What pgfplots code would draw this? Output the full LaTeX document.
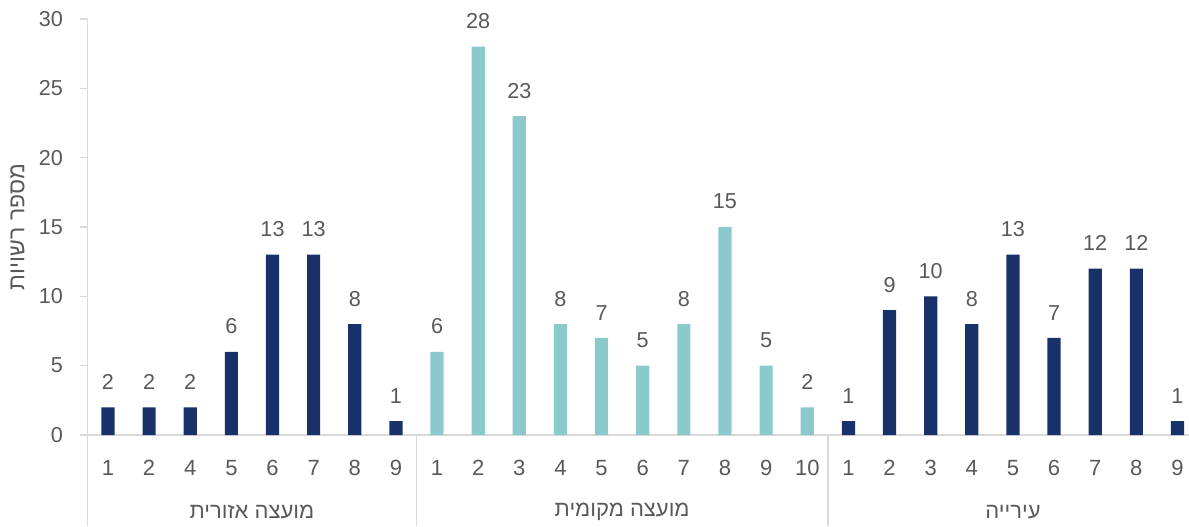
\documentclass[border=0pt]{standalone}
\usepackage{pgfplots}
\pgfplotsset{compat=1.18}
\usepackage{fontspec}
\setmainfont{Liberation Sans}
\newfontfamily\hebfont[Script=Hebrew]{Liberation Sans}
\TeXXeTstate=1
\definecolor{navy}{RGB}{24,50,105}
\definecolor{teal2}{RGB}{139,202,203}
\definecolor{txt}{RGB}{89,89,89}
\definecolor{axl}{RGB}{217,217,217}
\begin{document}
\begin{tikzpicture}
\useasboundingbox (-43.7pt,-45.5pt) rectangle (550.8pt,217.5pt);
\begin{axis}[
  at={(0,0)}, anchor=south west,
  scale only axis, width=550.8pt, height=208pt,
  xmin=-0.5, xmax=26.28, ymin=0, ymax=30,
  clip=false,
  axis x line*=bottom, axis y line*=left,
  axis line style={draw=axl, line width=0.75pt, -},
  ytick={0,5,...,30},
  ytick align=outside, xtick align=inside,
  major tick length=3.5pt,
  y tick style={draw=axl, line width=0.75pt},
  x tick style={draw=none},
  xtick={0,...,26},
  xticklabels={1,2,4,5,6,7,8,9,1,2,3,4,5,6,7,8,9,10,1,2,3,4,5,6,7,8,9},
  xticklabel style={font=\fontsize{11}{12}\selectfont, text=txt, anchor=center, inner sep=0pt, yshift=-16.5pt},
  yticklabel style={font=\fontsize{10.8}{11}\selectfont, text=txt, anchor=east, inner sep=0pt, xshift=-8.5pt},
  /pgf/number format/assume math mode=true,
  ylabel={\hebfont\beginR מספר רשויות\endR},
  ylabel style={font=\fontsize{11.5}{12}\selectfont, text=txt, at={(axis description cs:-0.0635,0.5)}, anchor=center, inner sep=0pt},
  nodes near coords,
  nodes near coords style={font=\fontsize{10.8}{11}\selectfont, text=txt, anchor=south, inner sep=0pt, yshift=8.7pt},
]
\addplot[ybar, bar width=6.6pt, bar shift=0pt, fill=navy, draw=none] coordinates {
(0,2)(1,2)(2,2)(3,6)(4,13)(5,13)(6,8)(7,1)
(18,1)(19,9)(20,10)(21,8)(22,13)(23,7)(24,12)(25,12)(26,1)};
\addplot[ybar, bar width=6.6pt, bar shift=0pt, fill=teal2, draw=none] coordinates {
(8,6)(9,28)(10,23)(11,8)(12,7)(13,5)(14,8)(15,15)(16,5)(17,2)};
\draw[axl, line width=0.75pt] (axis cs:-0.5,0) -- ++(0pt,-45.5pt);
\draw[axl, line width=0.75pt] (axis cs:7.5,0) -- ++(0pt,-45.5pt);
\draw[axl, line width=0.75pt] (axis cs:17.5,0) -- ++(0pt,-45.5pt);
\node[font=\hebfont\fontsize{11}{12}\selectfont, text=txt, anchor=center, inner sep=0pt] at (axis cs:3.5,0) [yshift=-38.5pt] {\beginR מועצה אזורית\endR};
\node[font=\hebfont\fontsize{11}{12}\selectfont, text=txt, anchor=center, inner sep=0pt] at (axis cs:12.5,0) [yshift=-38.5pt] {\beginR מועצה מקומית\endR};
\node[font=\hebfont\fontsize{11}{12}\selectfont, text=txt, anchor=center, inner sep=0pt] at (axis cs:22,0) [yshift=-38.5pt] {\beginR עירייה\endR};
\end{axis}
\end{tikzpicture}
\end{document}
